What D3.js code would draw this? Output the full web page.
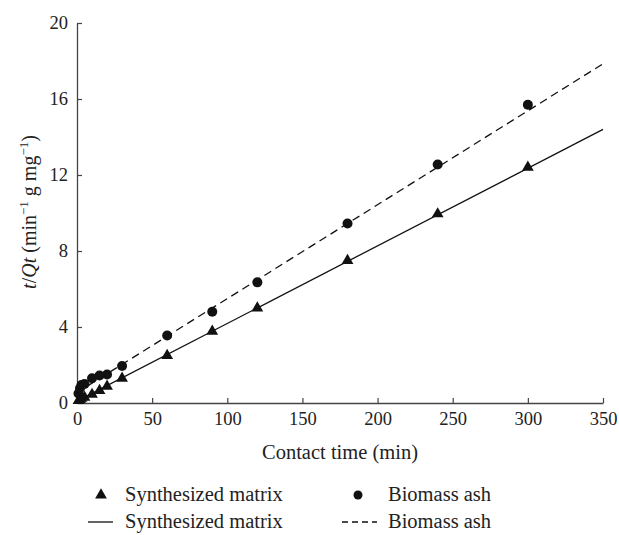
<!DOCTYPE html>
<html>
<head>
<meta charset="utf-8">
<script src="https://cdn.jsdelivr.net/npm/d3@7"></script>
<style>
  body { margin: 0; background: #fff; }
  text { font-family: "Liberation Serif", "DejaVu Serif", serif; fill: #222; }
</style>
</head>
<body>
<svg id="chart" width="619" height="535"></svg>
<script>
// contact time (min)
var matrixTime = [1, 2, 3, 5, 10, 15, 20, 30, 60, 90, 120, 180, 240, 300]
var matrixVals = [0.12, 0.18, 0.24, 0.3, 0.45, 0.65, 0.88, 1.3, 2.5, 3.77, 5.0, 7.5, 9.95, 12.4]
var ashTime = [1, 2, 3, 5, 10, 15, 20, 30, 60, 90, 120, 180, 240, 300]
var ashVals = [0.5, 0.78, 0.95, 1.0, 1.3, 1.45, 1.5, 1.95, 3.55, 4.8, 6.35, 9.45, 12.55, 15.7]
// fitted pseudo-second-order lines, ends at 0 and 350 min
var fitTime = [0, 350]
var matrixFit = [0.1, 14.4]
var ashFit = [0.55, 17.85]
var xTicks = [0, 50, 100, 150, 200, 250, 300, 350]
var yTicks = [0, 4, 8, 12, 16, 20]

var svg = d3.select('#chart')

var x = d3.scaleLinear().domain([0, 350]).range([77, 603])
var y = d3.scaleLinear().domain([0, 20]).range([403, 23])

// axes
var xAxis = svg.append('g')
  .attr('transform', 'translate(0,403)')
  .call(d3.axisBottom(x).tickValues(xTicks).tickSizeInner(-5).tickSizeOuter(0).tickPadding(9))
var yAxis = svg.append('g')
  .attr('transform', 'translate(77,0)')
  .call(d3.axisLeft(y).tickValues(yTicks).tickSizeInner(-5).tickSizeOuter(0).tickPadding(9))

;[xAxis, yAxis].forEach(function(ax) {
  ax.select('.domain').attr('stroke', '#444').attr('stroke-width', 1.3)
  ax.selectAll('.tick line').attr('stroke', '#444').attr('stroke-width', 1.2)
  ax.selectAll('.tick text').attr('font-size', '18.5px').attr('font-family', '"Liberation Serif", serif').attr('fill', '#222')
})
xAxis.selectAll('.tick').filter(d => d === 0).select('line').remove()
yAxis.selectAll('.tick').filter(d => d === 0).select('line').remove()

svg.append('text')
  .attr('x', 340).attr('y', 459)
  .attr('text-anchor', 'middle')
  .attr('font-size', '20.5px')
  .text('Contact time (min)')

var yl = svg.append('text')
  .attr('transform', 'translate(36,212) rotate(-90)')
  .attr('text-anchor', 'middle')
  .attr('font-size', '20px')
yl.append('tspan').attr('font-style', 'italic').text('t')
yl.append('tspan').text('/')
yl.append('tspan').attr('font-style', 'italic').text('Qt')
yl.append('tspan').text(' (min')
yl.append('tspan').attr('font-size', '13px').attr('dy', -8).text('\u22121')
yl.append('tspan').attr('dy', 8).text(' g mg')
yl.append('tspan').attr('font-size', '13px').attr('dy', -8).text('\u22121')
yl.append('tspan').attr('dy', 8).text(')')

// fit lines
var line = d3.line().x(d => x(d[0])).y(d => y(d[1]))
svg.append('path')
  .attr('d', line(fitTime.map((t, i) => [t, matrixFit[i]])))
  .attr('fill', 'none').attr('stroke', '#111').attr('stroke-width', 1.3)
svg.append('path')
  .attr('d', line(fitTime.map((t, i) => [t, ashFit[i]])))
  .attr('fill', 'none').attr('stroke', '#111').attr('stroke-width', 1.3)
  .attr('stroke-dasharray', '8,5')

var tri = d3.symbol().type(d3.symbolTriangle).size(60)

svg.append('g').selectAll('path')
  .data(matrixTime).enter().append('path')
  .attr('d', tri)
  .attr('transform', (d, i) => 'translate(' + x(d) + ',' + y(matrixVals[i]) + ')')
  .attr('fill', '#111')

svg.append('g').selectAll('circle')
  .data(ashTime).enter().append('circle')
  .attr('cx', d => x(d))
  .attr('cy', (d, i) => y(ashVals[i]))
  .attr('r', 5)
  .attr('fill', '#111')

// legend
var leg = svg.append('g').attr('font-size', '20.5px')
leg.append('path').attr('d', tri).attr('transform', 'translate(101,495)').attr('fill', '#111')
leg.append('text').attr('x', 125).attr('y', 501).text('Synthesized matrix')
leg.append('circle').attr('cx', 358).attr('cy', 495).attr('r', 4.5).attr('fill', '#111')
leg.append('text').attr('x', 388).attr('y', 501).text('Biomass ash')
leg.append('line').attr('x1', 88).attr('x2', 113).attr('y1', 522).attr('y2', 522)
  .attr('stroke', '#111').attr('stroke-width', 1.3)
leg.append('text').attr('x', 125).attr('y', 528).text('Synthesized matrix')
leg.append('line').attr('x1', 342).attr('x2', 377).attr('y1', 522).attr('y2', 522)
  .attr('stroke', '#111').attr('stroke-width', 1.3).attr('stroke-dasharray', '6,4')
leg.append('text').attr('x', 388).attr('y', 528).text('Biomass ash')
</script>
</body>
</html>
